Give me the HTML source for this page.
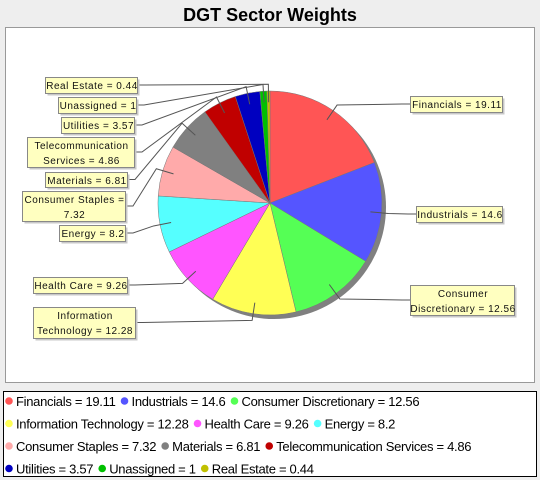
<!DOCTYPE html>
<html><head><meta charset="utf-8"><style>
body{margin:0;width:540px;height:480px;background:#eeeeee;font-family:"Liberation Sans",sans-serif;overflow:hidden}
</style></head><body>
<svg width="540" height="480" style="position:absolute;left:0;top:0">
<text x="270" y="21" text-anchor="middle" font-size="18" font-weight="bold" font-family="Liberation Sans, sans-serif">DGT Sector Weights</text>
<rect x="5.5" y="27.5" width="529" height="355" fill="#fff" stroke="#999"/>
<g id="pie"></g>
<g id="labels"></g>
<rect x="3.5" y="391.5" width="533" height="85" fill="#fff" stroke="#000"/>
<g id="legend"></g>
</svg>
<script>
const categories=["Financials","Industrials","Consumer Discretionary","Information Technology","Health Care","Energy","Consumer Staples","Materials","Telecommunication Services","Utilities","Unassigned","Real Estate"];
const values=[19.11,14.6,12.56,12.28,9.26,8.2,7.32,6.81,4.86,3.57,1,0.44];
const colors=["#ff5555","#5555ff","#55ff55","#ffff55","#ff55ff","#55ffff","#ffaaaa","#808080","#c00000","#0000c0","#00c000","#c0c000"];
const boxes=[[410,96,92,16,["Financials = 19.11"]],[416,206,86,16,["Industrials = 14.6"]],[410,285,104,30,["Consumer","Discretionary = 12.56"]],[33,307,102,31,["Information","Technology = 12.28"]],[33,277,94,16,["Health Care = 9.26"]],[59,225,66,16,["Energy = 8.2"]],[22,191,103,30,["Consumer Staples =","7.32"]],[45,172,82,15,["Materials = 6.81"]],[27,137,107,30,["Telecommunication","Services = 4.86"]],[61,117,73,16,["Utilities = 3.57"]],[58,97,78,16,["Unassigned = 1"]],[45,77,92,16,["Real Estate = 0.44"]]];
const NS="http://www.w3.org/2000/svg";
function mk(t,a,p){const e=document.createElementNS(NS,t);for(const k in a)e.setAttribute(k,a[k]);p.appendChild(e);return e;}
const cx=270,cy=203,r=112;
const total=values.reduce((a,b)=>a+b,0);
function pt(ang,rr){return [cx+rr*Math.sin(ang),cy-rr*Math.cos(ang)];}
const pie=document.getElementById('pie'),lab=document.getElementById('labels'),leg=document.getElementById('legend');
const sh=mk('circle',{cx:cx+4,cy:cy+4,r:r,fill:'#808080'},pie);


let a0=0;
values.forEach((v,i)=>{
 const a1=a0+v/total*2*Math.PI;
 const p0=pt(a0,r),p1=pt(a1,r);
 const large=(a1-a0)>Math.PI?1:0;
 const s=mk('path',{d:`M${cx},${cy}L${p0[0]},${p0[1]}A${r},${r} 0 ${large} 1 ${p1[0]},${p1[1]}Z`,fill:colors[i],stroke:'#777','stroke-width':0.5},pie);
 
 
 const m=(a0+a1)/2;const an=pt(m,r*0.9),el=pt(m,r*1.06);
 const b=boxes[i];const by=b[1]+b[3]/2;const right=b[0]>cx;const bx=right?b[0]:b[0]+b[2];
 const hx=right?bx-8:bx+8;
 const ln=mk('polyline',{points:`${an[0]},${an[1]} ${el[0]},${el[1]} ${hx},${by} ${bx},${by}`,fill:'none',stroke:'#555','stroke-width':1},lab);
 
 
 const g=mk('g',{},lab);
 
 
 mk('rect',{x:b[0]+2.5,y:b[1]+2.5,width:b[2],height:b[3],fill:'#c8c8c8'},g);
 mk('rect',{x:b[0]+0.5,y:b[1]+0.5,width:b[2],height:b[3],fill:'#ffffc0',stroke:'#888'},g);
 b[4].forEach((t,j)=>{const tx=mk('text',{x:b[0]+b[2]/2+1,y:b[1]+12+j*15,'text-anchor':'middle','font-size':10,'font-family':'Liberation Sans, sans-serif','letter-spacing':0.5,fill:'#111'},g);tx.textContent=t;});
 a0=a1;
});
const rows=[[0,1,2],[3,4,5],[6,7,8],[9,10,11]];
rows.forEach((row,ri)=>{let x=5;const y=401+ri*22.5;
 row.forEach(i=>{
  const g=mk('g',{},leg);
  
  
  mk('circle',{cx:x+4,cy:y,r:3.8,fill:colors[i]},g);
  const t=mk('text',{x:x+11,y:y+5,'font-size':13,'font-family':'Liberation Sans, sans-serif','letter-spacing':-0.3},g);
  t.textContent=categories[i]+" = "+values[i];
  x+=11+t.getComputedTextLength()+5;
 });
});
</script>
</body></html>
